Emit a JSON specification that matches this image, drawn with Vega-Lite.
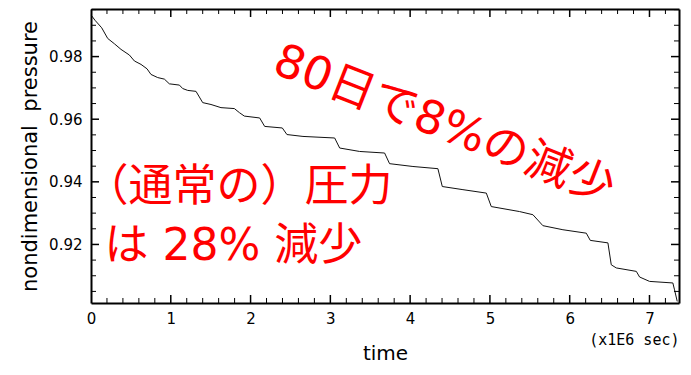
{
  "$schema": "https://vega.github.io/schema/vega-lite/v6.json",
  "autosize": {"type": "none"},
  "padding": {"left": 91, "top": 9, "right": 12, "bottom": 72},
  "width": 588,
  "height": 294,
  "background": "white",
  "config": {
    "view": {"stroke": null},
    "axis": {"grid": false, "domainColor": "black", "labelColor": "black", "titleColor": "black", "labelFont": "DejaVu Sans", "titleFont": "DejaVu Sans", "titleFontWeight": "normal", "labelFlush": false, "labelOverlap": false}
  },
  "datasets": {
    "p": [
      {"t": 0, "v": 0.9933}, {"t": 0.05, "v": 0.9916}, {"t": 0.134, "v": 0.9892}, {"t": 0.209, "v": 0.9858},
      {"t": 0.293, "v": 0.9841}, {"t": 0.376, "v": 0.9823}, {"t": 0.481, "v": 0.9805}, {"t": 0.544, "v": 0.9786},
      {"t": 0.627, "v": 0.9775}, {"t": 0.702, "v": 0.9761}, {"t": 0.752, "v": 0.9743}, {"t": 0.836, "v": 0.9733},
      {"t": 0.92, "v": 0.9728}, {"t": 0.982, "v": 0.9713}, {"t": 1.108, "v": 0.9709}, {"t": 1.149, "v": 0.9698},
      {"t": 1.212, "v": 0.9692}, {"t": 1.316, "v": 0.9689}, {"t": 1.358, "v": 0.9671}, {"t": 1.4, "v": 0.9653},
      {"t": 1.504, "v": 0.9647}, {"t": 1.629, "v": 0.9637}, {"t": 1.797, "v": 0.9634}, {"t": 1.86, "v": 0.9621},
      {"t": 1.922, "v": 0.961}, {"t": 2.114, "v": 0.9604}, {"t": 2.177, "v": 0.9577}, {"t": 2.398, "v": 0.9572},
      {"t": 2.456, "v": 0.9551}, {"t": 2.657, "v": 0.9545}, {"t": 3.054, "v": 0.954}, {"t": 3.117, "v": 0.9508},
      {"t": 3.367, "v": 0.9497}, {"t": 3.68, "v": 0.9492}, {"t": 3.742, "v": 0.9458}, {"t": 4.035, "v": 0.9449},
      {"t": 4.348, "v": 0.9442}, {"t": 4.403, "v": 0.9385}, {"t": 4.662, "v": 0.9375}, {"t": 4.955, "v": 0.9364},
      {"t": 5.017, "v": 0.9321}, {"t": 5.372, "v": 0.9305}, {"t": 5.539, "v": 0.9295}, {"t": 5.664, "v": 0.926},
      {"t": 5.915, "v": 0.9247}, {"t": 6.208, "v": 0.9236}, {"t": 6.258, "v": 0.9213}, {"t": 6.479, "v": 0.9205},
      {"t": 6.521, "v": 0.9135}, {"t": 6.584, "v": 0.9125}, {"t": 6.835, "v": 0.9114}, {"t": 6.876, "v": 0.9096},
      {"t": 7.001, "v": 0.9082}, {"t": 7.293, "v": 0.9077}, {"t": 7.314, "v": 0.9055}, {"t": 7.348, "v": 0.9018}
    ],
    "xmaj": [{"t": 1}, {"t": 2}, {"t": 3}, {"t": 4}, {"t": 5}, {"t": 6}, {"t": 7}],
    "xmin": [{"t": 0.2}, {"t": 0.4}, {"t": 0.6}, {"t": 0.8}, {"t": 1.2}, {"t": 1.4}, {"t": 1.6}, {"t": 1.8}, {"t": 2.2}, {"t": 2.4}, {"t": 2.6}, {"t": 2.8}, {"t": 3.2}, {"t": 3.4}, {"t": 3.6}, {"t": 3.8}, {"t": 4.2}, {"t": 4.4}, {"t": 4.6}, {"t": 4.8}, {"t": 5.2}, {"t": 5.4}, {"t": 5.6}, {"t": 5.8}, {"t": 6.2}, {"t": 6.4}, {"t": 6.6}, {"t": 6.8}, {"t": 7.2}],
    "ymaj": [{"v": 0.92}, {"v": 0.94}, {"v": 0.96}, {"v": 0.98}],
    "ymin": [{"v": 0.905}, {"v": 0.91}, {"v": 0.915}, {"v": 0.925}, {"v": 0.93}, {"v": 0.935}, {"v": 0.945}, {"v": 0.95}, {"v": 0.955}, {"v": 0.965}, {"v": 0.97}, {"v": 0.975}, {"v": 0.985}, {"v": 0.99}, {"v": 0.995}],
    "ann": [
      {"t": -0.08, "v": 0.9381, "label": "（通常の）圧力"},
      {"t": 0.17, "v": 0.9191, "label": "は 28% 減少"}
    ],
    "ann2": [
      {"t": 4.425, "v": 0.9581, "label": "80日で8%の減少"}
    ]
  },
  "resolve": {"axis": {"x": "independent", "y": "independent"}},
  "layer": [
    {
      "data": {"name": "p"},
      "mark": {"type": "line", "color": "#111111", "strokeWidth": 1},
      "encoding": {
        "x": {"field": "t", "type": "quantitative", "scale": {"domain": [0, 7.37], "nice": false, "zero": false},
          "axis": {"orient": "bottom", "values": [0, 1, 2, 3, 4, 5, 6, 7], "ticks": false, "labelPadding": 8, "labelFontSize": 15, "domain": true, "domainWidth": 2, "title": "time", "titleFontSize": 20, "titlePadding": 17, "zindex": 3}},
        "y": {"field": "v", "type": "quantitative", "scale": {"domain": [0.9013, 0.9952], "nice": false, "zero": false},
          "axis": {"orient": "left", "values": [0.92, 0.94, 0.96, 0.98], "format": ".2f", "ticks": false, "labelPadding": 9, "labelFontSize": 15, "domain": true, "domainWidth": 2, "title": "nondimensional\u00a0 pressure", "titleFontSize": 21, "titlePadding": 8, "zindex": 3}}
      }
    },
    {
      "data": {"name": "p"},
      "mark": {"type": "line", "opacity": 0},
      "encoding": {
        "x": {"field": "t", "type": "quantitative", "axis": {"orient": "top", "labels": false, "ticks": false, "domain": true, "domainWidth": 2, "title": null, "zindex": 3}},
        "y": {"field": "v", "type": "quantitative", "axis": {"orient": "right", "labels": false, "ticks": false, "domain": true, "domainWidth": 2, "title": null, "zindex": 3}}
      }
    },
    {
      "data": {"name": "p"},
      "mark": {"type": "line", "opacity": 0},
      "encoding": {
        "x": {"field": "t", "type": "quantitative", "axis": {"orient": "bottom", "labels": false, "ticks": false, "domain": false, "title": "(x1E6 sec)", "titleFont": "DejaVu Sans Mono", "titleFontSize": 15, "titleAnchor": "end", "titleAlign": "right", "titlePadding": 29}},
        "y": {"field": "v", "type": "quantitative", "axis": null}
      }
    },
    {
      "data": {"name": "xmaj"},
      "mark": {"type": "rule", "color": "black", "strokeWidth": 1.5},
      "encoding": {
        "x": {"field": "t", "type": "quantitative", "axis": null},
        "y": {"datum": 0.9013, "type": "quantitative", "axis": null},
        "y2": {"datum": 0.90386}
      }
    },
    {
      "data": {"name": "xmaj"},
      "mark": {"type": "rule", "color": "black", "strokeWidth": 1.5},
      "encoding": {
        "x": {"field": "t", "type": "quantitative", "axis": null},
        "y": {"datum": 0.9952, "type": "quantitative", "axis": null},
        "y2": {"datum": 0.99264}
      }
    },
    {
      "data": {"name": "xmin"},
      "mark": {"type": "rule", "color": "black", "strokeWidth": 1},
      "encoding": {
        "x": {"field": "t", "type": "quantitative", "axis": null},
        "y": {"datum": 0.9013, "type": "quantitative", "axis": null},
        "y2": {"datum": 0.9029}
      }
    },
    {
      "data": {"name": "xmin"},
      "mark": {"type": "rule", "color": "black", "strokeWidth": 1},
      "encoding": {
        "x": {"field": "t", "type": "quantitative", "axis": null},
        "y": {"datum": 0.9952, "type": "quantitative", "axis": null},
        "y2": {"datum": 0.9936}
      }
    },
    {
      "data": {"name": "ymaj"},
      "mark": {"type": "rule", "color": "black", "strokeWidth": 1.5},
      "encoding": {
        "y": {"field": "v", "type": "quantitative", "axis": null},
        "x": {"datum": 0, "type": "quantitative", "axis": null},
        "x2": {"datum": 0.1003}
      }
    },
    {
      "data": {"name": "ymaj"},
      "mark": {"type": "rule", "color": "black", "strokeWidth": 1.5},
      "encoding": {
        "y": {"field": "v", "type": "quantitative", "axis": null},
        "x": {"datum": 7.37, "type": "quantitative", "axis": null},
        "x2": {"datum": 7.2697}
      }
    },
    {
      "data": {"name": "ymin"},
      "mark": {"type": "rule", "color": "black", "strokeWidth": 1},
      "encoding": {
        "y": {"field": "v", "type": "quantitative", "axis": null},
        "x": {"datum": 0, "type": "quantitative", "axis": null},
        "x2": {"datum": 0.0627}
      }
    },
    {
      "data": {"name": "ymin"},
      "mark": {"type": "rule", "color": "black", "strokeWidth": 1},
      "encoding": {
        "y": {"field": "v", "type": "quantitative", "axis": null},
        "x": {"datum": 7.37, "type": "quantitative", "axis": null},
        "x2": {"datum": 7.3073}
      }
    },
    {
      "data": {"name": "ann"},
      "mark": {"type": "text", "align": "left", "baseline": "middle", "font": "DejaVu Sans, Noto Sans CJK JP", "fontSize": 44, "color": "#ff0000"},
      "encoding": {
        "x": {"field": "t", "type": "quantitative", "axis": null},
        "y": {"field": "v", "type": "quantitative", "axis": null},
        "text": {"field": "label"}
      }
    },
    {
      "data": {"name": "ann2"},
      "mark": {"type": "text", "align": "center", "baseline": "middle", "angle": 21.5, "font": "DejaVu Sans, Noto Sans CJK JP", "fontSize": 46, "color": "#ff0000"},
      "encoding": {
        "x": {"field": "t", "type": "quantitative", "axis": null},
        "y": {"field": "v", "type": "quantitative", "axis": null},
        "text": {"field": "label"}
      }
    }
  ]
}
